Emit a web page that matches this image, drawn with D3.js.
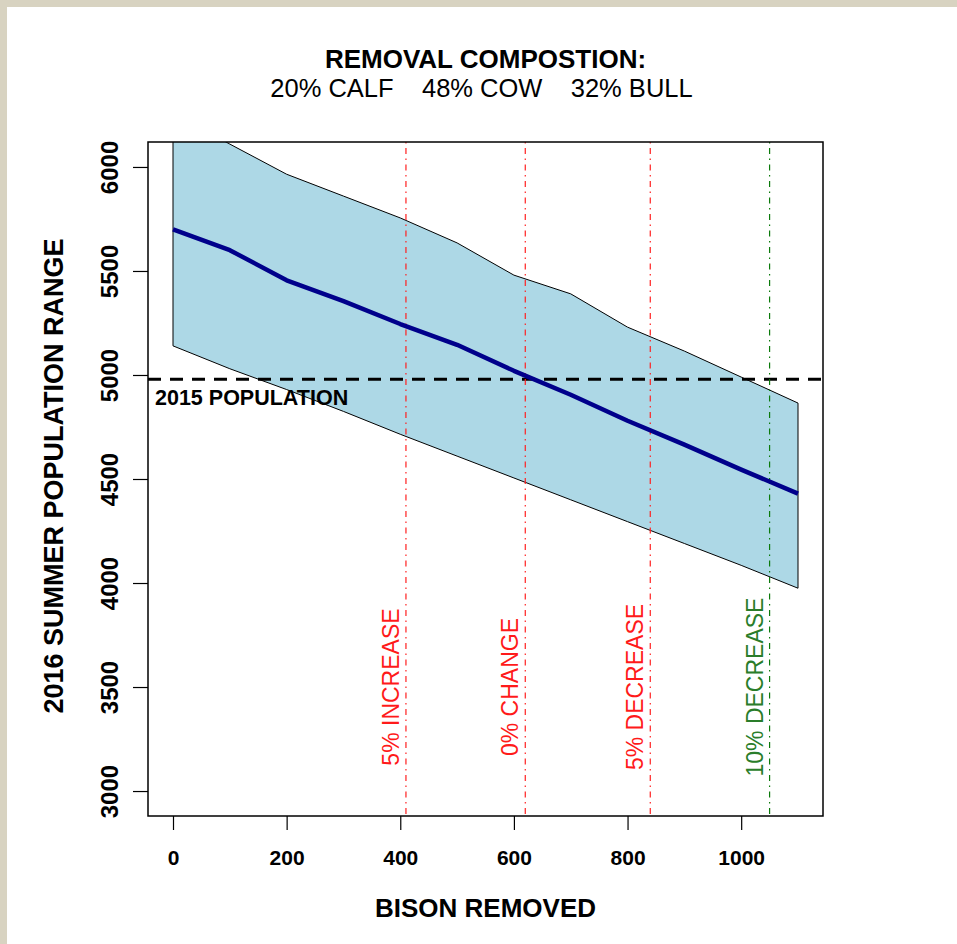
<!DOCTYPE html>
<html>
<head>
<meta charset="utf-8">
<script src="https://cdn.jsdelivr.net/npm/d3@7"></script>
<style>
    body { margin: 0; background: #d8d3c1; }
    svg text { font-family: "Liberation Sans", Arial, sans-serif; }
</style>
</head>
<body>
<div id="chart"></div>
<script>
// bison removed (x) and projected 2016 summer population
const removed = [0, 100, 200, 300, 400, 500, 600, 700, 800, 900, 1000, 1100];
const popMean = [5700, 5600, 5455, 5355, 5245, 5145, 5020, 4905, 4780, 4665, 4545, 4430];
const popUpper = [6260, 6110, 5965, 5860, 5755, 5635, 5480, 5390, 5230, 5115, 4990, 4865];
const popLower = [5140, 5030, 4930, 4825, 4715, 4610, 4505, 4400, 4295, 4190, 4085, 3975];

const pop2015 = 4980;

// reference removal levels
const refRemoved = [410, 620, 840, 1050];
const refLabels = ['5% INCREASE', '0% CHANGE', '5% DECREASE', '10% DECREASE'];
const refColors = ['#ff2020', '#ff2020', '#ff2020', '#0b7a0b'];
const refTextColors = ['#ff1a1a', '#ff1a1a', '#ff1a1a', '#2a7d2a'];
const refLabelY = 3500;

const xTicks = [0, 200, 400, 600, 800, 1000];
const yTicks = [3000, 3500, 4000, 4500, 5000, 5500, 6000];

const W = 957, H = 944;
let margin = {top: 142, left: 148, right: 134, bottom: 128};

let svg = d3.select('#chart')
    .append('svg')
    .attr('width', W)
    .attr('height', H);

// white slide area over textured border
svg.append('rect')
    .attr('x', 7).attr('y', 7)
    .attr('width', W - 7).attr('height', H - 7)
    .attr('fill', 'white');

// R style axis limits (4% expansion)
let xScale = d3.scaleLinear()
    .domain([-44, 1144])
    .range([margin.left, W - margin.right]);

let yScale = d3.scaleLinear()
    .domain([2880, 6120])
    .range([H - margin.bottom, margin.top]);

let x0 = xScale.range()[0], x1 = xScale.range()[1];
let yTop = yScale.range()[1], yBot = yScale.range()[0];

svg.append('clipPath').attr('id', 'plotclip')
    .append('rect')
    .attr('x', x0).attr('y', yTop)
    .attr('width', x1 - x0).attr('height', yBot - yTop);

let plot = svg.append('g').attr('clip-path', 'url(#plotclip)');

// range band
let band = removed.map((d, i) => [d, popUpper[i]])
    .concat(removed.map((d, i) => [d, popLower[i]]).reverse());

plot.append('path')
    .datum(band)
    .attr('d', d3.line().x(d => xScale(d[0])).y(d => yScale(d[1])).curve(d3.curveLinearClosed))
    .attr('fill', '#add8e6')
    .attr('stroke', 'black')
    .attr('stroke-width', 1);

// 2015 population
plot.append('line')
    .attr('x1', x0).attr('x2', x1)
    .attr('y1', yScale(pop2015)).attr('y2', yScale(pop2015))
    .attr('stroke', 'black')
    .attr('stroke-width', 3)
    .attr('stroke-dasharray', '13,9');

// reference lines
plot.selectAll('.ref')
    .data(refRemoved).enter()
    .append('line')
    .attr('x1', d => xScale(d)).attr('x2', d => xScale(d))
    .attr('y1', yTop).attr('y2', yBot)
    .attr('stroke', (d, i) => refColors[i])
    .attr('stroke-width', 1.2)
    .attr('stroke-dasharray', '1.5,4.5,6,4.5');

// mean line
plot.append('path')
    .datum(removed.map((d, i) => [d, popMean[i]]))
    .attr('d', d3.line().x(d => xScale(d[0])).y(d => yScale(d[1])))
    .attr('fill', 'none')
    .attr('stroke', '#00008b')
    .attr('stroke-width', 4.5)
    .attr('stroke-linejoin', 'round');

// reference labels
svg.selectAll('.reflab')
    .data(refRemoved).enter()
    .append('text')
    .attr('transform', d => `translate(${xScale(d) - 7},${yScale(refLabelY)}) rotate(-90)`)
    .attr('text-anchor', 'middle')
    .attr('fill', (d, i) => refTextColors[i])
    .style('font-size', '23px')
    .text((d, i) => refLabels[i]);

svg.append('text')
    .attr('x', x0 + 7)
    .attr('y', yScale(pop2015) + 26)
    .style('font-size', '21.5px')
    .style('font-weight', 'bold')
    .text('2015 POPULATION');

// box
svg.append('rect')
    .attr('x', x0).attr('y', yTop)
    .attr('width', x1 - x0).attr('height', yBot - yTop)
    .attr('fill', 'none')
    .attr('stroke', 'black')
    .attr('stroke-width', 1.5);

// X axis
let xAxis = svg.append('g')
    .attr('transform', `translate(0,${yBot})`)
    .call(d3.axisBottom(xScale).tickValues(xTicks).tickSize(14).tickFormat(d3.format('d')));
xAxis.select('.domain').remove();
xAxis.selectAll('line').attr('stroke-width', 1.2);
xAxis.selectAll('text')
    .attr('y', 49).attr('dy', 0)
    .attr('fill', 'black')
    .style('font-size', '21px')
    .style('font-weight', 'bold')
    .style('font-family', '"Liberation Sans", Arial, sans-serif');

// Y axis
let yAxis = svg.append('g')
    .attr('transform', `translate(${x0},0)`)
    .call(d3.axisLeft(yScale).tickValues(yTicks).tickSize(15).tickFormat(d3.format('d')));
yAxis.select('.domain').remove();
yAxis.selectAll('line').attr('stroke-width', 1.2);
yAxis.selectAll('text')
    .attr('x', 0).attr('dy', 0)
    .attr('transform', 'translate(-30,0) rotate(-90)')
    .attr('text-anchor', 'middle')
    .attr('fill', 'black')
    .style('font-size', '24px')
    .style('font-weight', 'bold')
    .style('font-family', '"Liberation Sans", Arial, sans-serif');

// titles
let cx = (x0 + x1) / 2;
svg.append('text')
    .attr('x', cx).attr('y', 68)
    .attr('text-anchor', 'middle')
    .style('font-size', '26px')
    .style('font-weight', 'bold')
    .text('REMOVAL COMPOSTION:');

svg.append('text')
    .attr('x', cx - 4).attr('y', 97)
    .attr('text-anchor', 'middle')
    .style('font-size', '25.5px')
    .style('white-space', 'pre')
    .text('20% CALF    48% COW    32% BULL');

svg.append('text')
    .attr('x', cx).attr('y', 917)
    .attr('text-anchor', 'middle')
    .style('font-size', '26px')
    .style('font-weight', 'bold')
    .text('BISON REMOVED');

svg.append('text')
    .attr('transform', `translate(63,${(yTop + yBot) / 2 - 3}) rotate(-90)`)
    .attr('text-anchor', 'middle')
    .style('font-size', '27px')
    .style('font-weight', 'bold')
    .text('2016 SUMMER POPULATION RANGE');
</script>
</body>
</html>
